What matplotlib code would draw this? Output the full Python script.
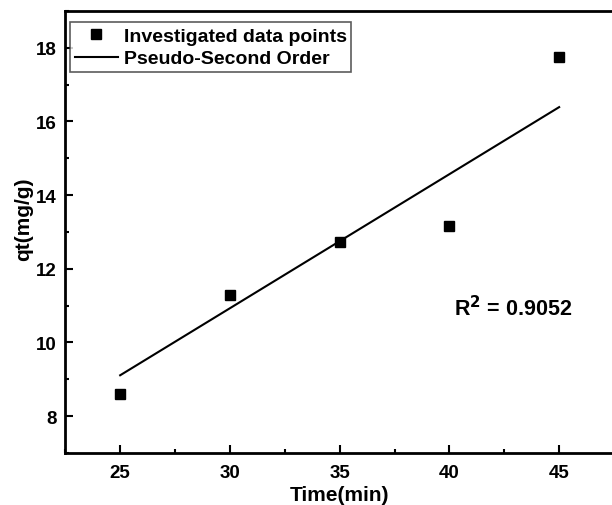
import matplotlib
matplotlib.use('Agg')
import matplotlib.pyplot as plt
from matplotlib.ticker import MultipleLocator

# Data
time_min = [25, 30, 35, 40, 45]
qt = [8.6, 11.28, 12.74, 13.16, 17.75]
# Pseudo-second order fitted line (end points)
fit_time = [25, 45]
fit_qt = [9.11, 16.39]
r2_text = 'R$^2$ = 0.9052'

plt.rcParams['font.family'] = ['Liberation Sans', 'DejaVu Sans']
plt.rcParams['font.weight'] = 'bold'
plt.rcParams['mathtext.default'] = 'bf'

fig = plt.figure(figsize=(6.12, 5.06), dpi=100)
ax = fig.add_axes([0.1067, 0.1028, 0.8966, 0.8735])

ax.plot(time_min, qt, 's', color='black', markersize=7.5, label='Investigated data points')
ax.plot(fit_time, fit_qt, '-', color='black', linewidth=1.5, label='Pseudo-Second Order')

ax.set_xlim(22.5, 47.5)
ax.set_ylim(7, 19)
ax.xaxis.set_major_locator(MultipleLocator(5))
ax.xaxis.set_minor_locator(MultipleLocator(2.5))
ax.yaxis.set_major_locator(MultipleLocator(2))
ax.yaxis.set_minor_locator(MultipleLocator(1))
ax.tick_params(which='both', direction='in', width=1.5, labelsize=13.5, top=False, right=False)
ax.tick_params(which='major', length=6)
ax.tick_params(which='minor', length=3)
ax.tick_params(axis='x', which='major', pad=8)
ax.tick_params(axis='y', which='major', pad=6)
for lab in ax.get_xticklabels() + ax.get_yticklabels():
    lab.set_fontweight('bold')
for sp in ax.spines.values():
    sp.set_linewidth(2)

ax.set_xlabel('Time(min)', fontsize=15, fontweight='bold', labelpad=3)
ax.set_ylabel('qt(mg/g)', fontsize=15, fontweight='bold')
ax.yaxis.set_label_coords(-0.058, 0.53)

ax.text(42.9, 10.96, r2_text, fontsize=15.5, fontweight='bold', ha='center', va='center')

leg = ax.legend(loc='upper left', bbox_to_anchor=(0.0, 0.985), fontsize=14, frameon=True,
                fancybox=False, edgecolor='#333333', borderaxespad=0.25, handlelength=2.2,
                handletextpad=0.3, borderpad=0.25, labelspacing=0.25)
leg.get_frame().set_linewidth(1.2)
for t in leg.get_texts():
    t.set_fontweight('bold')

fig.savefig('out.png', dpi=100)
